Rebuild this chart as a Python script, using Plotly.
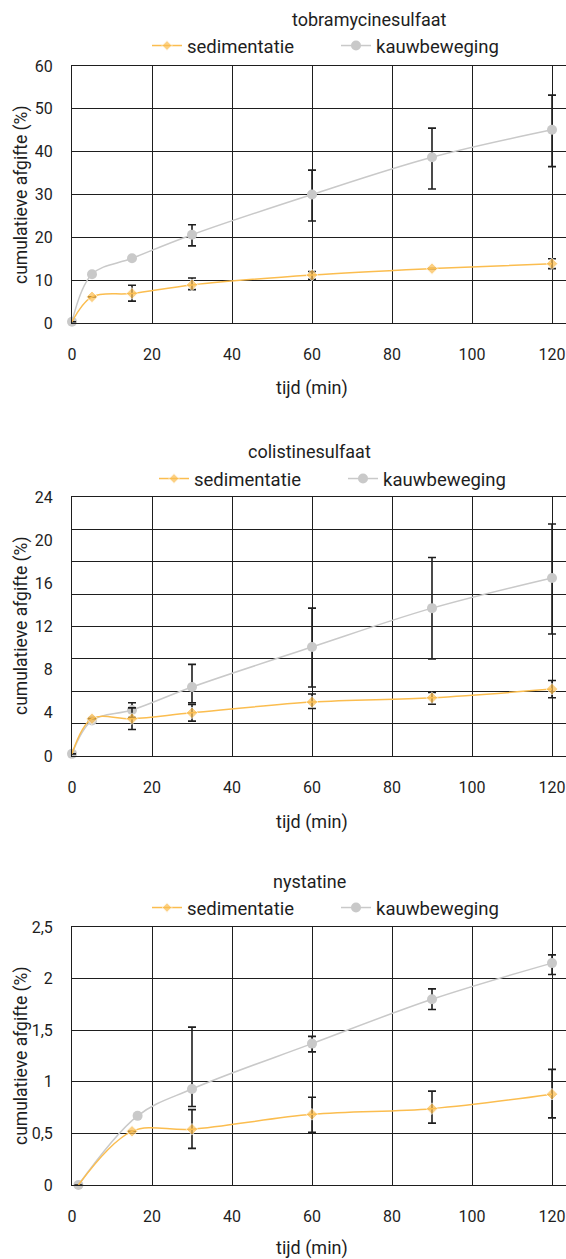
import plotly.graph_objects as go

# ---------------- data ----------------
tobra_x = [0, 5, 15, 30, 60, 90, 120]
tobra_sed = [0.3, 6.1, 6.9, 8.9, 11.2, 12.7, 13.85]
tobra_sed_plus = [0, 0, 1.9, 1.6, 0.8, 0, 1.15]
tobra_sed_minus = [0, 0, 1.8, 1.1, 1.0, 0, 1.15]
tobra_kau = [0.3, 11.4, 15.1, 20.6, 30.0, 38.7, 45.1]
tobra_kau_plus = [0, 0, 0, 2.35, 5.7, 6.8, 8.1]
tobra_kau_minus = [0, 0, 0, 2.6, 6.2, 7.4, 8.6]

coli_x = [0, 5, 15, 30, 60, 90, 120]
coli_sed = [0.2, 3.46, 3.46, 4.0, 5.0, 5.4, 6.2]
coli_sed_plus = [0, 0, 1.0, 0.78, 0.75, 0.5, 0.8]
coli_sed_minus = [0, 0, 1.0, 0.77, 0.6, 0.6, 0.8]
coli_kau = [0.2, 3.3, 4.26, 6.39, 10.1, 13.7, 16.5]
coli_kau_plus = [0, 0, 0.68, 2.1, 3.6, 4.7, 5.0]
coli_kau_minus = [0, 0, 0.68, 1.45, 3.7, 4.7, 5.2]

nys_sed_x = [1.6, 15, 30, 60, 90, 120]
nys_sed = [0, 0.52, 0.54, 0.685, 0.74, 0.88]
nys_sed_plus = [0, 0, 0.19, 0.165, 0.17, 0.24]
nys_sed_minus = [0, 0, 0.185, 0.175, 0.14, 0.23]
nys_kau_x = [1.6, 16.4, 30, 60, 90, 120]
nys_kau = [0, 0.67, 0.93, 1.37, 1.80, 2.15]
nys_kau_plus = [0, 0, 0.6, 0.07, 0.1, 0.08]
nys_kau_minus = [0, 0, 0.17, 0.08, 0.1, 0.11]

titles = ["tobramycinesulfaat", "colistinesulfaat", "nystatine"]
series_names = ["sedimentatie", "kauwbeweging"]
x_ticks = [0, 20, 40, 60, 80, 100, 120]
x_ticktext = ["0", "20", "40", "60", "80", "100", "120"]
tobra_yticks = [0, 10, 20, 30, 40, 50, 60]
tobra_ytext = ["0", "10", "20", "30", "40", "50", "60"]
coli_yticks = [0, 4, 8, 12, 16, 20, 24]
coli_ytext = ["0", "4", "8", "12", "16", "20", "24"]
coli_ygrid = [0, 3, 6, 9, 12, 15, 18, 21, 24]
nys_yticks = [0, 0.5, 1, 1.5, 2, 2.5]
nys_ytext = ["0", "0,5", "1", "1,5", "2", "2,5"]
x_title = "tijd (min)"
y_title = "cumulatieve afgifte (%)"

# ---------------- style ----------------
ORANGE = "#FBBD4F"
GREY = "#C9C9C9"
INK = "#1e1e1e"
FONT = "Roboto"
TICK_SIZE = 16
W, H = 566, 1259
L = 72          # page pixel of x = 0


def py(pix):
    return 1 - pix / H


def px(pix):
    return (pix - L) / (W - L)


fig = go.Figure()

panels = [
    dict(xa="x", ya="y", leg="legend",
         sx=tobra_x, sy=tobra_sed, sp=tobra_sed_plus, sm=tobra_sed_minus,
         kx=tobra_x, ky=tobra_kau, kp=tobra_kau_plus, km=tobra_kau_minus),
    dict(xa="x2", ya="y2", leg="legend2",
         sx=coli_x, sy=coli_sed, sp=coli_sed_plus, sm=coli_sed_minus,
         kx=coli_x, ky=coli_kau, kp=coli_kau_plus, km=coli_kau_minus),
    dict(xa="x3", ya="y3", leg="legend3",
         sx=nys_sed_x, sy=nys_sed, sp=nys_sed_plus, sm=nys_sed_minus,
         kx=nys_kau_x, ky=nys_kau, kp=nys_kau_plus, km=nys_kau_minus),
]

for p in panels:
    fig.add_trace(go.Scatter(
        x=p["kx"], y=p["ky"], name=series_names[1], mode="lines+markers",
        xaxis=p["xa"], yaxis=p["ya"], legend=p["leg"], legendrank=2,
        line=dict(color=GREY, width=1.5, shape="spline", smoothing=1),
        marker=dict(symbol="circle", size=10, color=GREY),
        error_y=dict(type="data", symmetric=False, array=p["kp"], arrayminus=p["km"],
                     color=INK, thickness=1.6, width=4),
        cliponaxis=False,
    ))
    sizes = [0] + [9] * (len(p["sx"]) - 1)
    fig.add_trace(go.Scatter(
        x=p["sx"], y=p["sy"], name=series_names[0], mode="lines+markers",
        xaxis=p["xa"], yaxis=p["ya"], legend=p["leg"], legendrank=1,
        line=dict(color=ORANGE, width=1.5, shape="spline", smoothing=1),
        marker=dict(symbol="diamond", size=sizes, color=ORANGE),
        error_y=dict(type="data", symmetric=False, array=p["sp"], arrayminus=p["sm"],
                     color=INK, thickness=1.6, width=4),
        cliponaxis=False,
    ))

fig.add_trace(go.Scatter(x=[], y=[], xaxis="x2", yaxis="y4", showlegend=False))

domains = [
    [py(323), py(66)],
    [py(756), py(497)],
    [py(1185), py(927)],
]

xcommon = dict(range=[0, 123.5], tickmode="array", tickvals=x_ticks, ticktext=x_ticktext,
               showgrid=True, gridcolor=INK, gridwidth=1, zeroline=False,
               showline=True, linecolor=INK, linewidth=1, mirror=True,
               ticks="outside", ticklen=17, tickcolor="rgba(0,0,0,0)", automargin=False,
               ticklabeloverflow="allow",
               tickfont=dict(family=FONT, size=TICK_SIZE, color=INK), domain=[0, 1])
ycommon = dict(tickmode="array", zeroline=False, showline=True, linecolor=INK, linewidth=1,
               gridcolor=INK, gridwidth=1, ticks="outside", ticklen=15, automargin=False,
               tickcolor="rgba(0,0,0,0)", tickfont=dict(family=FONT, size=TICK_SIZE, color=INK))

fig.update_layout(
    xaxis=dict(xcommon, anchor="y"),
    xaxis2=dict(xcommon, anchor="y2"),
    xaxis3=dict(xcommon, anchor="y3"),
    yaxis=dict(ycommon, anchor="x", domain=domains[0], range=[0, 60],
               tickvals=tobra_yticks, ticktext=tobra_ytext, showgrid=True),
    yaxis2=dict(ycommon, anchor="x2", domain=domains[1], range=[0, 24],
                tickvals=coli_yticks, ticktext=coli_ytext, showgrid=False),
    yaxis4=dict(anchor="x2", overlaying="y2", range=[0, 24], tickmode="array",
                tickvals=coli_ygrid, showticklabels=False, showgrid=True, automargin=False,
                gridcolor=INK, gridwidth=1, zeroline=False, showline=False, ticks=""),
    yaxis3=dict(ycommon, anchor="x3", domain=domains[2], range=[0, 2.5],
                tickvals=nys_yticks, ticktext=nys_ytext, showgrid=True),
)

leg_common = dict(orientation="h", xanchor="left", yanchor="middle",
                  font=dict(family=FONT, size=18.5, color=INK), bgcolor="rgba(0,0,0,0)",
                  itemwidth=30, entrywidth=144, entrywidthmode="pixels",
                  traceorder="normal", borderwidth=0)
fig.update_layout(
    legend=dict(leg_common, x=px(147), y=py(46)),
    legend2=dict(leg_common, x=px(154), y=py(479)),
    legend3=dict(leg_common, x=px(147), y=py(908)),
)

ann = []
title_pos = [(369, 20), (309, 451.5), (309, 881.5)]
xt_pos = [388, 821.7, 1248]
yt_pos = [195, 626, 1056]
for i in range(3):
    ann.append(dict(text=titles[i], xref="paper", yref="paper", x=px(title_pos[i][0]),
                    y=py(title_pos[i][1]), xanchor="center", yanchor="middle",
                    showarrow=False, font=dict(family=FONT, size=18, color=INK)))
    ann.append(dict(text=x_title, xref="paper", yref="paper", x=px(312),
                    y=py(xt_pos[i]), xanchor="center", yanchor="middle",
                    showarrow=False, font=dict(family=FONT, size=18, color=INK)))
    ann.append(dict(text=y_title, xref="paper", yref="paper", x=px(21),
                    y=py(yt_pos[i]), xanchor="center", yanchor="middle", textangle=-90,
                    showarrow=False, font=dict(family=FONT, size=17.5, color=INK)))

fig.update_layout(
    annotations=ann,
    width=W, height=H,
    margin=dict(l=L, r=0, t=0, b=0, autoexpand=False),
    paper_bgcolor="white", plot_bgcolor="white",
    font=dict(family=FONT, color=INK),
)

fig.write_html("out.html",
               config={"displayModeBar": False},
               post_script="document.body.style.margin='0px';"
                           "document.body.style.overflow='hidden';")
